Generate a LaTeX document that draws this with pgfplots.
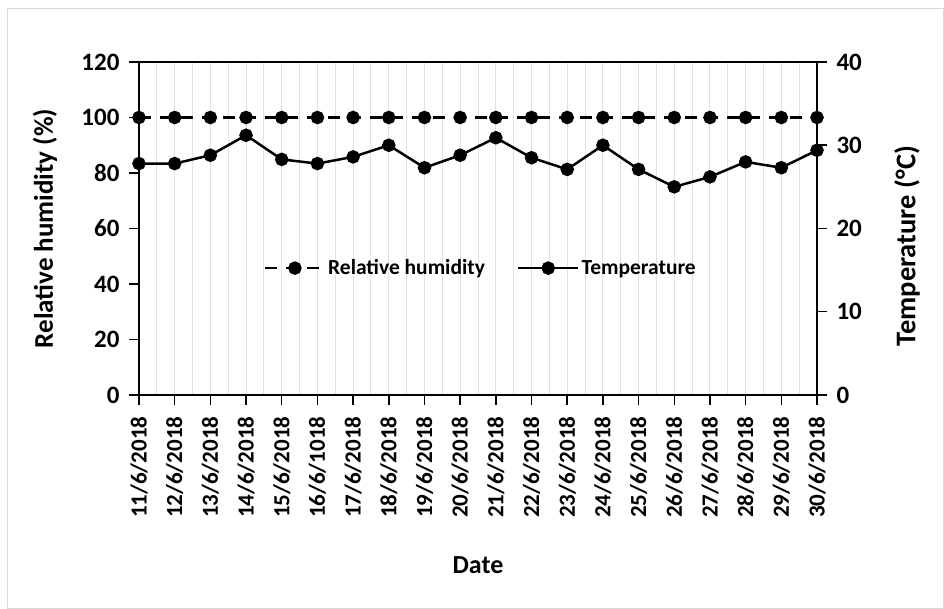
\documentclass[border=0pt]{standalone}
\usepackage{pgfplots}
\pgfplotsset{compat=1.18}
\usepackage{fontspec}
\setmainfont{Carlito}

\definecolor{gridgray}{RGB}{225,225,225}
\definecolor{framegray}{RGB}{215,215,215}

% daily readings, 11/6/2018 -- 30/6/2018
\pgfplotstableread{
idx rh temp
0  100 27.8
1  100 27.8
2  100 28.8
3  100 31.2
4  100 28.3
5  100 27.8
6  100 28.6
7  100 30.0
8  100 27.3
9  100 28.8
10 100 30.9
11 100 28.5
12 100 27.1
13 100 30.0
14 100 27.1
15 100 25.0
16 100 26.2
17 100 28.0
18 100 27.3
19 100 29.4
}\climate

\pgfplotsset{
  common/.style={
    scale only axis,
    width=678pt, height=333pt,
    at={(0pt,0pt)}, anchor=south west,
    xmin=0, xmax=19,
    axis line style={line width=2.5pt},
    tick style={line width=1.5pt, black},
    major tick length=10pt,
    tick align=outside,
    yticklabel style={font=\fontsize{25}{27}\selectfont\bfseries},
    xticklabel style={font=\fontsize{23}{25}\selectfont\bfseries},
    yticklabel shift=6pt,
    xticklabel shift=8pt,
    /pgf/number format/assume math mode=true,
  },
  series/.style={black, line width=2.5pt, mark=*, mark size=5.5pt, mark options={solid}},
}

\begin{document}
\begin{tikzpicture}
\path[use as bounding box] (-139pt,-214pt) rectangle (805pt,395pt);
\draw[framegray, line width=1pt] (-131pt,-213.5pt) rectangle (804pt,386pt);

\begin{axis}[
  common,
  ymin=0, ymax=120,
  ytick={0,20,...,120},
  ytick pos=left,
  xtick pos=bottom,
  xtick={0,...,19},
  xticklabels={11/6/2018,12/6/2018,13/6/2018,14/6/2018,15/6/2018,16/6/1018,17/6/2018,18/6/2018,19/6/2018,20/6/2018,21/6/2018,22/6/2018,23/6/2018,24/6/2018,25/6/2018,26/6/2018,27/6/2018,28/6/2018,29/6/2018,30/6/2018},
  xticklabel style={rotate=90, anchor=east},
  minor x tick num=1,
  xmajorgrids, xminorgrids,
  major grid style={gridgray, line width=1pt},
  minor grid style={gridgray, line width=1pt},
  minor tick length=0pt,
  ylabel={Relative humidity (\%)},
  ylabel style={at={(axis description cs:-0.1387,0.5)}, anchor=center,
    font=\fontsize{27}{30}\selectfont\bfseries},
  xlabel={Date},
  xlabel style={at={(axis description cs:0.5,-0.5105)}, anchor=center,
    font=\fontsize{26}{29}\selectfont\bfseries},
  clip=false,
]
\addplot[series, dash pattern=on 12pt off 9pt] table[x=idx, y=rh] {\climate};
% top edge of the plot frame
\draw[black, line width=2.5pt, line cap=rect] (rel axis cs:0,1) -- (rel axis cs:1,1);
\end{axis}

\begin{axis}[
  common,
  ymin=0, ymax=40,
  ytick={0,10,...,40},
  axis y line*=right,
  hide x axis,
  ylabel={Temperature (°C)},
  ylabel style={at={(axis description cs:1.1327,0.447)}, anchor=center,
    font=\fontsize{28.5}{31}\selectfont\bfseries},
  legend columns=2,
  legend style={draw=none, fill=none, at={(axis description cs:0.504,0.381)}, anchor=center,
    font=\fontsize{21.5}{23}\selectfont\bfseries,
    /tikz/every even column/.append style={column sep=30pt}},
  legend image code/.code={
    \draw[mark repeat=2, mark phase=2, #1] plot coordinates {(0pt,0pt) (30pt,0pt) (60pt,0pt)};},
  clip=false,
]
\addlegendimage{series, dash pattern=on 12pt off 9pt}
\addlegendentry{Relative humidity}
\addplot[series] table[x=idx, y=temp] {\climate};
\addlegendentry{Temperature}
\end{axis}
\end{tikzpicture}
\end{document}
